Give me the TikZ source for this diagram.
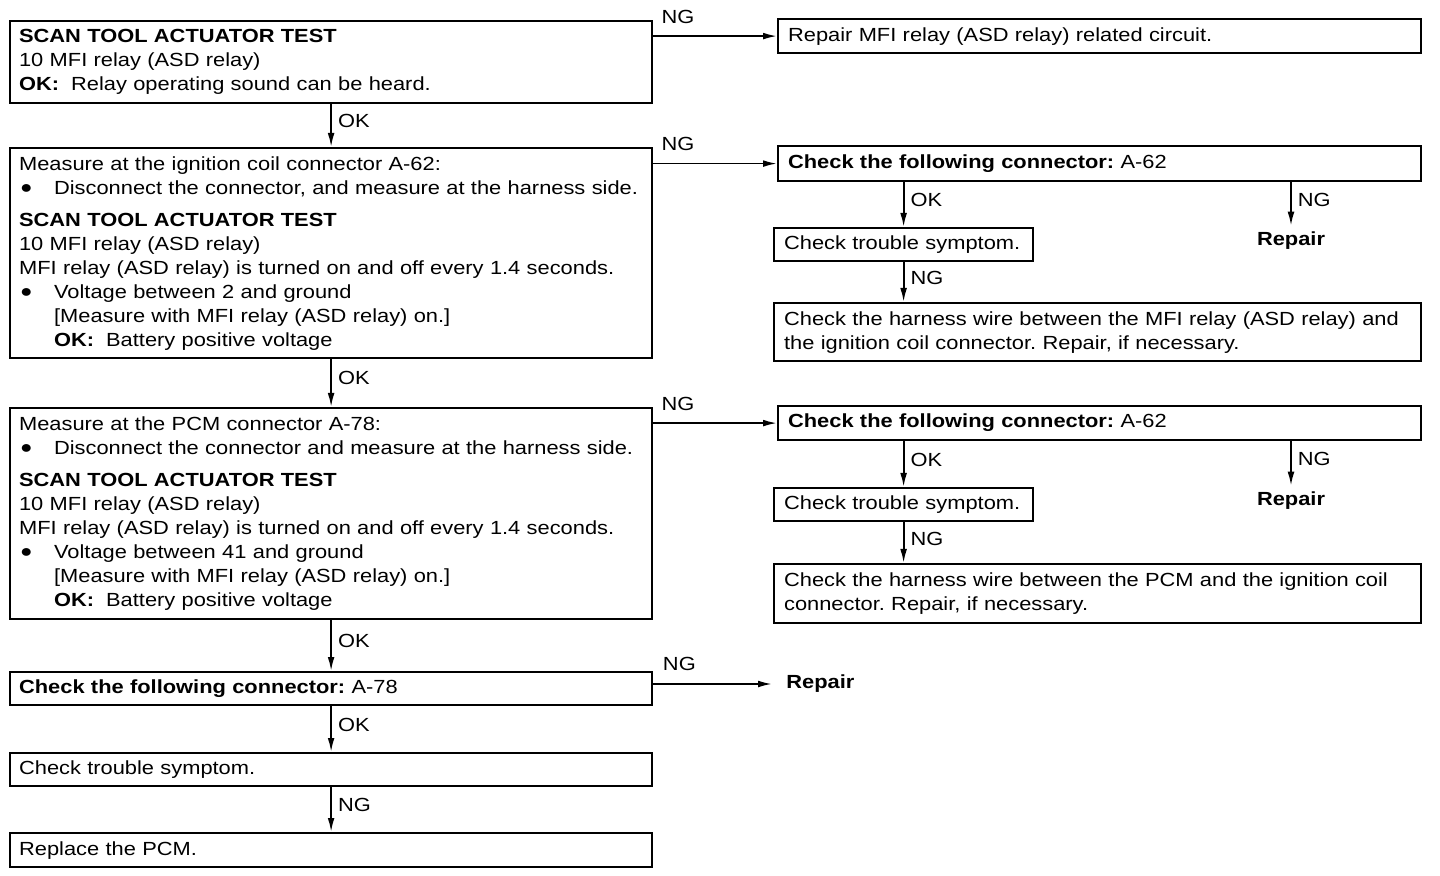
\documentclass[tikz,border=0pt]{standalone}
\usepackage{fontspec}
\setmainfont[FakeStretch=1.15]{Liberation Sans}
\usetikzlibrary{arrows.meta, positioning, calc}
\frenchspacing
\newcommand{\bulitem}{\makebox[17.5pt][l]{\hspace{0.5pt}\raisebox{0.3pt}{\fontsize{9}{9}\selectfont ●}}}
\newcommand{\indnt}{\hspace*{17.5pt}}

\begin{document}
\begin{tikzpicture}[x=0.5pt, y=-0.5pt, line cap=butt,
    every node/.style={font=\fontsize{9.5}{12}\selectfont},
    box/.style={draw, line width=1.1pt, anchor=north west, align=left, inner xsep=4.5pt, inner ysep=0pt},
    lbox/.style={box, text width=312pt},
    rbox/.style={box, inner xsep=5pt, text width=311.5pt},
    rep/.style={font=\fontsize{9.5}{12}\selectfont\bfseries, inner sep=3pt},
    lab/.style={inner sep=1pt},
    flow/.style={-{Latex[length=7pt, width=3.4pt]}, line width=0.9pt}
]

% ---------------- canvas 1440 x 876, white ----------------
\fill[white] (0,0) rectangle (1440,876);
\useasboundingbox (0,0) rectangle (1440,876);

% ================= left column =================
\node[lbox, minimum height=41pt] (scan) at (9,20)
    {\textbf{SCAN TOOL ACTUATOR TEST}\\
     10 MFI relay (ASD relay)\\
     \textbf{OK:}\hspace{6pt}Relay operating sound can be heard.};

\node[lbox, minimum height=105pt] (coil) at (9,147)
    {Measure at the ignition coil connector A-62:\\
     \bulitem Disconnect the connector, and measure at the harness side.\\[4pt]
     \textbf{SCAN TOOL ACTUATOR TEST}\\
     10 MFI relay (ASD relay)\\
     MFI relay (ASD relay) is turned on and off every 1.4 seconds.\\
     \bulitem Voltage between 2 and ground\\
     \indnt [Measure with MFI relay (ASD relay) on.]\\
     \indnt \textbf{OK:}\hspace{6pt}Battery positive voltage};

\node[lbox, minimum height=105.5pt] (pcm) at (9,407)
    {Measure at the PCM connector A-78:\\
     \bulitem Disconnect the connector and measure at the harness side.\\[4pt]
     \textbf{SCAN TOOL ACTUATOR TEST}\\
     10 MFI relay (ASD relay)\\
     MFI relay (ASD relay) is turned on and off every 1.4 seconds.\\
     \bulitem Voltage between 41 and ground\\
     \indnt [Measure with MFI relay (ASD relay) on.]\\
     \indnt \textbf{OK:}\hspace{6pt}Battery positive voltage};

\node[lbox, minimum height=16.5pt] (conC) at (9,671) {\textbf{Check the following connector:} A-78};
\node[lbox, minimum height=16.5pt] (symC) at (9,752) {Check trouble symptom.};
\node[lbox, minimum height=17pt] (repl) at (9,832) {Replace the PCM.};
\node[rep, anchor=west, inner xsep=1pt] (repC) at (784,684) {Repair};

% ================= right column, upper =================
\node[rbox, minimum height=17pt] (relay) at (777,18) {Repair MFI relay (ASD relay) related circuit.};

\node[rbox, minimum height=17.5pt] (conA) at (777,145) {\textbf{Check the following connector:} A-62};
\node[box, inner xsep=5pt, text width=119.5pt, minimum height=16.5pt] (symA) at (773,227) {Check trouble symptom.};
\node[rep] (repA) at (1291,241) {Repair};
\node[box, inner xsep=5pt, text width=313.5pt, minimum height=29pt] (wireA) at (773,302)
    {Check the harness wire between the MFI relay (ASD relay) and\\
     the ignition coil connector. Repair, if necessary.};

% ================= right column, lower =================
\node[rbox, minimum height=17pt] (conB) at (777,405) {\textbf{Check the following connector:} A-62};
\node[box, inner xsep=5pt, text width=119.5pt, minimum height=16.5pt] (symB) at (773,487) {Check trouble symptom.};
\node[rep] (repB) at (1291,501) {Repair};
\node[box, inner xsep=5pt, text width=313.5pt, minimum height=29.5pt] (wireB) at (773,563)
    {Check the harness wire between the PCM and the ignition coil\\
     connector. Repair, if necessary.};

% ---------------- connectors ----------------
\draw[flow] (scan.south) -- node[lab, right=2pt, pos=0.4] {OK} (coil.north);
\draw[flow] (coil.south) -- node[lab, right=2pt, pos=0.4] {OK} (pcm.north);
\draw[flow] (pcm.south) -- node[lab, right=2pt, pos=0.4] {OK} (conC.north);
\draw[flow] (conC.south) -- node[lab, right=2pt, pos=0.4] {OK} (symC.north);
\draw[flow] (symC.south) -- node[lab, right=2pt, pos=0.4] {NG} (repl.north);

\draw[flow] (scan.east |- relay.west) -- node[lab, pos=0.2, above=5pt] {NG} (relay.west);
\draw[flow] (coil.east |- conA.west) -- node[lab, pos=0.2, above=5pt] {NG} (conA.west);
\draw[flow] (pcm.east |- conB.west) -- node[lab, pos=0.2, above=5pt] {NG} (conB.west);
\draw[flow, shorten >=6pt] (conC.east |- repC.west) -- node[lab, pos=0.2, above=5pt] {NG} (repC.west);

\draw[flow] (conA.south -| symA.north) -- node[lab, right=2pt, pos=0.4] {OK} (symA.north);
\draw[flow] (conA.south -| repA.north) -- node[lab, right=2pt, pos=0.4] {NG} (repA.north);
\draw[flow] (symA.south) -- node[lab, right=2pt, pos=0.4] {NG} (symA.south |- wireA.north);

\draw[flow] (conB.south -| symB.north) -- node[lab, right=2pt, pos=0.4] {OK} (symB.north);
\draw[flow] (conB.south -| repB.north) -- node[lab, right=2pt, pos=0.4] {NG} (repB.north);
\draw[flow] (symB.south) -- node[lab, right=2pt, pos=0.4] {NG} (symB.south |- wireB.north);

\end{tikzpicture}
\end{document}
